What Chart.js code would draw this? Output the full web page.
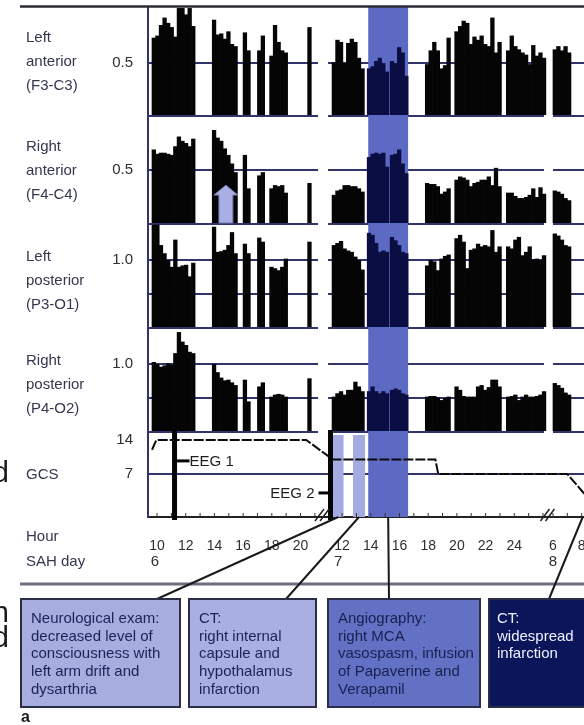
<!DOCTYPE html>
<html>
<head>
<meta charset="utf-8">
<script src="https://cdn.jsdelivr.net/npm/chart.js@4.4.1/dist/chart.umd.min.js"></script>
<style>
  html, body { margin: 0; padding: 0; background: #fff; overflow: hidden; }
  #wrap { width: 584px; height: 725px; }
</style>
</head>
<body>
<div id="wrap"><canvas id="eegChart" width="584" height="725"></canvas></div>
<script>
// Continuous recording segments: [SAH day, start hour], 15-min epochs each
const segStart = [[6, 9.65], [6, 13.85], [6, 16.0], [6, 17.0], [6, 17.85], [6, 20.5],
                  [7, 11.3], [7, 13.75], [7, 15.35], [7, 17.8], [7, 19.85], [7, 23.45], [8, 6.0]];
const segLength = [12, 7, 2, 2, 5, 1, 9, 6, 5, 7, 13, 11, 5];

// EEG band ratio per epoch, one list per channel (segments in the order above)
const leftAnterior = [
  0.74, 0.76, 0.86, 0.93, 0.88, 0.84, 0.75, 1.02, 1.02, 0.96, 1.02, 0.85,
  0.91, 0.77, 0.78, 0.73, 0.80, 0.68, 0.66,
  0.79, 0.62,
  0.62, 0.76,
  0.57, 0.86, 0.70, 0.62, 0.60,
  0.84,
  0.51, 0.72, 0.70, 0.50, 0.69, 0.73, 0.70, 0.55, 0.45,
  0.45, 0.47, 0.52, 0.55, 0.50, 0.42,
  0.52, 0.50, 0.65, 0.60, 0.38,
  0.49, 0.62, 0.70, 0.62, 0.45, 0.48, 0.74,
  0.80, 0.85, 0.90, 0.88, 0.68, 0.75, 0.72, 0.76, 0.68, 0.66, 0.93, 0.60, 0.70,
  0.62, 0.76, 0.66, 0.63, 0.60, 0.58, 0.49, 0.67, 0.57, 0.60, 0.55,
  0.63, 0.66, 0.62, 0.66, 0.60
];
const rightAnterior = [
  0.69, 0.65, 0.66, 0.66, 0.65, 0.64, 0.72, 0.81, 0.77, 0.75, 0.72, 0.79,
  0.87, 0.80, 0.77, 0.70, 0.64, 0.56, 0.48,
  0.64, 0.33,
  0.45, 0.48,
  0.33, 0.36, 0.35, 0.36, 0.29,
  0.38,
  0.27, 0.31, 0.32, 0.36, 0.36, 0.35, 0.35, 0.33, 0.30,
  0.62, 0.65, 0.66, 0.65, 0.66, 0.53,
  0.64, 0.65, 0.69, 0.56, 0.47,
  0.38, 0.37, 0.37, 0.35, 0.28, 0.30, 0.33,
  0.41, 0.44, 0.43, 0.41, 0.35, 0.38, 0.39, 0.41, 0.41, 0.44, 0.36, 0.52, 0.35,
  0.29, 0.29, 0.26, 0.24, 0.24, 0.25, 0.27, 0.33, 0.25, 0.34, 0.28,
  0.31, 0.30, 0.28, 0.24, 0.22
];
const leftPosterior = [
  1.52, 1.52, 1.22, 1.10, 1.00, 0.90, 1.30, 0.90, 0.92, 0.93, 0.76, 0.96,
  1.49, 1.12, 1.13, 1.15, 1.22, 1.41, 1.10,
  1.24, 1.10,
  1.33, 1.27,
  0.90, 0.88, 0.85, 0.90, 1.02,
  1.27,
  1.22, 1.25, 1.28, 1.17, 1.14, 1.12, 1.05, 1.00, 0.86,
  1.40, 1.37, 1.25, 1.12, 1.14, 1.12,
  1.34, 1.29, 1.22, 1.12, 1.10,
  0.92, 1.00, 0.98, 0.85, 1.02, 1.06, 1.08,
  1.32, 1.37, 1.27, 0.88, 1.15, 1.17, 1.24, 1.20, 1.22, 1.20, 1.44, 1.12, 1.20,
  1.20, 1.17, 1.30, 1.34, 1.07, 1.12, 1.20, 1.01, 1.02, 1.00, 1.07,
  1.39, 1.36, 1.30, 1.22, 1.20
];
const rightPosterior = [
  1.03, 1.00, 0.96, 0.98, 1.01, 0.99, 1.16, 1.47, 1.33, 1.28, 1.18, 1.16,
  1.00, 0.88, 0.80, 0.76, 0.77, 0.73, 0.69,
  0.77, 0.45,
  0.67, 0.73,
  0.52, 0.55, 0.56, 0.55, 0.52,
  0.79,
  0.52, 0.57, 0.60, 0.55, 0.62, 0.62, 0.74, 0.67, 0.60,
  0.60, 0.67, 0.60, 0.57, 0.60, 0.57,
  0.62, 0.64, 0.62, 0.57, 0.55,
  0.52, 0.53, 0.53, 0.51, 0.47, 0.50, 0.52,
  0.67, 0.62, 0.53, 0.52, 0.52, 0.52, 0.67, 0.69, 0.62, 0.66, 0.77, 0.77, 0.67,
  0.52, 0.53, 0.55, 0.47, 0.52, 0.55, 0.52, 0.52, 0.53, 0.55, 0.60,
  0.72, 0.69, 0.65, 0.58, 0.55
];

// Glasgow coma scale
const gcsTimes = [[6, 9.65], [6, 9.95], [6, 20.4], [7, 11.35], [7, 18.5], [7, 18.7], [8, 7.0], [8, 8.6]];
const gcsScores = [12, 14, 14, 10, 10, 7, 7, 1.5];

// Events
const eeg1At = [6, 11.22];
const eeg2At = [7, 11.19];
const arrowAt = [6, 14.8];
const ctWindows = [[[7, 11.36], [7, 12.1]], [[7, 12.76], [7, 13.6]]];
const angioWindow = [[7, 13.82], [7, 16.6]];
const eventAt = [[7, 11.73], [7, 13.18], [7, 15.21], [8, 8.07]];
const axisBreaks = [[[6, 21.22], [7, 11.02]], [[7, 26.07], [8, 6.0]]];
const hourTicks = [[6, 10, 21], [7, 12, 26], [8, 6, 8]];
const sahDays = [[6, 9.85], [7, 11.72], [8, 6.0]];

const panelLabels = [
  ['Left', 'anterior', '(F3-C3)'],
  ['Right', 'anterior', '(F4-C4)'],
  ['Left', 'posterior', '(P3-O1)'],
  ['Right', 'posterior', '(P4-O2)']
];
const boxTexts = [
  ['Neurological exam:', 'decreased level of', 'consciousness with', 'left arm drift and', 'dysarthria'],
  ['CT:', 'right internal', 'capsule and', 'hypothalamus', 'infarction'],
  ['Angiography:', 'right MCA', 'vasospasm, infusion', 'of Papaverine and', 'Verapamil'],
  ['CT:', 'widespread', 'infarction']
];

// compressed time axis: the night gaps are cut out
const dayShift = { 6: 0, 7: 10.9, 8: 31.6 };
const pos = (day, h) => h + dayShift[day];

const epochs = [];
segStart.forEach(([d, h], s) => {
  for (let i = 0; i < segLength[s]; i++) epochs.push(pos(d, h + i * 0.25 + 0.125));
});
const toPts = vals => vals.map((v, i) => ({ x: epochs[i], y: v }));

const FONT = '"Liberation Sans", Arial, Helvetica, sans-serif';
const gridColor = '#30346a';
const angioX = angioWindow.map(p => pos(...p));

const barColor = ctx => {
  const x = ctx.raw ? ctx.raw.x : 0;
  return x >= angioX[0] && x <= angioX[1] ? '#0b0e42' : '#050505';
};

function barSet(vals, axis) {
  return {
    type: 'bar', data: toPts(vals), yAxisID: axis, grouped: false,
    backgroundColor: barColor, borderWidth: 0,
    barPercentage: 1.2, categoryPercentage: 1
  };
}

function panelScale(stackWeight, order, min, max, tickVals, labels, noLine) {
  return {
    type: 'linear', position: 'left', stack: 'panels', stackWeight, weight: order,
    min, max,
    grid: {
      color: c => (c.tick && noLine.includes(c.tick.value)) ? 'rgba(0,0,0,0)' : gridColor,
      lineWidth: 2, drawTicks: false
    },
    border: { display: true, color: gridColor, width: 2 },
    ticks: {
      padding: 15, color: '#2f2f2f', font: { size: 15, family: FONT },
      callback: v => labels[v] || ''
    },
    afterBuildTicks: s => { s.ticks = tickVals.map(v => ({ value: v })); },
    afterFit: s => { s.width = 148; s.paddingTop = 0; s.paddingBottom = 0; }
  };
}

const overlay = {
  id: 'overlay',
  beforeDatasetsDraw(chart) {
    const { ctx, chartArea: a, scales: { x, p4, gcs } } = chart;
    const xp = p => x.getPixelForValue(pos(...p));
    ctx.save();
    // cut the panel grid lines at the time breaks
    ctx.fillStyle = '#fff';
    axisBreaks.forEach(([s, e]) => {
      ctx.fillRect(xp(s), a.top + 3, xp(e) - xp(s), p4.bottom + 2 - a.top - 3);
    });
    // angiography window through all panels
    ctx.fillStyle = '#5c6ac4';
    ctx.fillRect(xp(angioWindow[0]), a.top, xp(angioWindow[1]) - xp(angioWindow[0]), a.bottom - a.top);
    // CT windows in GCS panel
    ctx.fillStyle = '#a4abe0';
    ctWindows.forEach(([s, e]) => {
      ctx.fillRect(xp(s), gcs.top + 3, xp(e) - xp(s), a.bottom - gcs.top - 3);
    });
    ctx.restore();
  },
  afterDatasetsDraw(chart) {
    const { ctx, chartArea: a, scales: { x, p1, p2, p3, p4, gcs } } = chart;
    const xp = p => x.getPixelForValue(pos(...p));
    const font = (s, b) => (b ? 'bold ' : '') + s + 'px ' + FONT;
    ctx.save();

    // arrow in right anterior panel
    const ax = xp(arrowAt), base = p2.getPixelForValue(0) - 1, tip = p2.getPixelForValue(0.36);
    const hy = tip + 10;
    ctx.beginPath();
    ctx.moveTo(ax, tip); ctx.lineTo(ax + 12, hy); ctx.lineTo(ax + 7, hy); ctx.lineTo(ax + 7, base);
    ctx.lineTo(ax - 7, base); ctx.lineTo(ax - 7, hy); ctx.lineTo(ax - 12, hy); ctx.closePath();
    ctx.fillStyle = '#a9aee3'; ctx.fill();
    ctx.strokeStyle = '#6f75ad'; ctx.lineWidth = 1; ctx.stroke();

    // inward tick marks on time axis
    ctx.strokeStyle = '#333'; ctx.lineWidth = 1;
    x.ticks.forEach(t => {
      const px = x.getPixelForValue(t.value);
      ctx.beginPath(); ctx.moveTo(px, a.bottom); ctx.lineTo(px, a.bottom - 4); ctx.stroke();
    });

    // EEG recording markers
    ctx.strokeStyle = '#050505'; ctx.fillStyle = '#1e1e1e';
    ctx.font = font(15); ctx.textBaseline = 'middle';
    const e1 = xp(eeg1At), e2 = xp(eeg2At);
    ctx.lineWidth = 5;
    [e1, e2].forEach(ex => {
      ctx.beginPath(); ctx.moveTo(ex, p4.bottom - 2); ctx.lineTo(ex, a.bottom + 3); ctx.stroke();
    });
    ctx.lineWidth = 3;
    const y1 = gcs.getPixelForValue(9.7), y2 = gcs.getPixelForValue(3.1);
    ctx.beginPath(); ctx.moveTo(e1, y1); ctx.lineTo(e1 + 15, y1); ctx.stroke();
    ctx.textAlign = 'left'; ctx.fillText('EEG 1', e1 + 15, y1 + 1);
    ctx.beginPath(); ctx.moveTo(e2 - 12, y2); ctx.lineTo(e2, y2); ctx.stroke();
    ctx.textAlign = 'right'; ctx.fillText('EEG 2', e2 - 16, y2 + 1);

    // axis break marks
    ctx.strokeStyle = '#222'; ctx.lineWidth = 1.5;
    axisBreaks.forEach(([s, e]) => {
      const bx = (xp(s) + xp(e)) / 2;
      [-3, 2].forEach(o => {
        ctx.beginPath(); ctx.moveTo(bx + o - 5, a.bottom + 4); ctx.lineTo(bx + o + 4, a.bottom - 8); ctx.stroke();
      });
    });

    // frame lines
    ctx.strokeStyle = '#2b2b36'; ctx.lineWidth = 2.5;
    ctx.beginPath(); ctx.moveTo(20, a.top - 0.5); ctx.lineTo(584, a.top - 0.5); ctx.stroke();
    ctx.strokeStyle = '#6d6e7c'; ctx.lineWidth = 3;
    ctx.beginPath(); ctx.moveTo(20, 584); ctx.lineTo(584, 584); ctx.stroke();

    // channel labels
    ctx.fillStyle = '#35374f'; ctx.font = font(15); ctx.textAlign = 'left'; ctx.textBaseline = 'middle';
    const anchors = [[p1, 0.5, -25], [p2, 0.5, -23], [p3, 1.0, -3], [p4, 1.0, -3]];
    anchors.forEach(([sc, v, off], i) => {
      const y0 = sc.getPixelForValue(v) + off;
      panelLabels[i].forEach((t, k) => ctx.fillText(t, 26, y0 + k * 24));
    });
    ctx.fillText('GCS', 26, gcs.getPixelForValue(7) + 1);
    ctx.fillText('Hour', 26, 537);
    ctx.fillText('SAH day', 26, 562);
    ctx.fillStyle = '#2f2f2f'; ctx.textAlign = 'center';
    sahDays.forEach(p => ctx.fillText(String(p[0]), xp(p), 562));

    // event boxes and connectors
    const boxX = [21, 189, 328, 489], boxW = [159, 127, 152, 120];
    const anchorX = [157, 286, 389, 549];
    const fills = ['#a7addf', '#a9afe2', '#6371c5', '#0b165a'];
    const inks = ['#1c2255', '#1c2255', '#18204f', '#eef0ff'];
    ctx.strokeStyle = '#1a1a1a'; ctx.lineWidth = 2;
    eventAt.forEach((p, i) => {
      ctx.beginPath(); ctx.moveTo(xp(p), a.bottom); ctx.lineTo(anchorX[i], 599); ctx.stroke();
    });
    boxX.forEach((bx, i) => {
      ctx.fillStyle = fills[i]; ctx.fillRect(bx, 599, boxW[i], 108);
      ctx.strokeStyle = '#2a2e47'; ctx.lineWidth = 2; ctx.strokeRect(bx, 599, boxW[i], 108);
      ctx.fillStyle = inks[i]; ctx.font = font(15); ctx.textAlign = 'left';
      boxTexts[i].forEach((t, k) => ctx.fillText(t, bx + (i === 3 ? 8 : 10), 619 + k * 17.6));
    });

    // panel letter and clipped neighbour text
    ctx.fillStyle = '#1a1a1a'; ctx.font = font(16, true); ctx.textBaseline = 'alphabetic';
    ctx.fillText('a', 21, 722);
    ctx.font = font(29); ctx.textAlign = 'right';
    ctx.fillText('d', 9, 482);
    ctx.fillText('n', 9, 622);
    ctx.fillText('d', 9, 647);
    ctx.restore();
  }
};

const ctx = document.getElementById('eegChart').getContext('2d');
new Chart(ctx, {
  type: 'bar',
  data: {
    datasets: [
      barSet(leftAnterior, 'p1'),
      barSet(rightAnterior, 'p2'),
      barSet(leftPosterior, 'p3'),
      barSet(rightPosterior, 'p4'),
      {
        type: 'line', yAxisID: 'gcs',
        data: gcsTimes.map((p, i) => ({ x: pos(...p), y: gcsScores[i] })),
        borderColor: '#0a0a0a', borderWidth: 2, borderDash: [10, 2],
        pointRadius: 0, tension: 0, fill: false
      }
    ]
  },
  options: {
    responsive: false,
    animation: false,
    layout: { padding: { top: 7, left: 0, right: 0, bottom: 0 } },
    plugins: { legend: { display: false }, tooltip: { enabled: false } },
    scales: {
      x: {
        type: 'linear', position: 'bottom', min: 9.37, max: 39.76, offset: false,
        grid: { display: false, offset: false },
        border: { display: true, color: '#222', width: 2 },
        ticks: {
          autoSkip: false, maxRotation: 0, minRotation: 0, padding: 13,
          color: '#2f2f2f', font: { size: 14, family: FONT },
          callback: (v, i, t) => (t[i] && t[i].h <= 24 && t[i].h % 2 === 0) ? String(t[i].h) : ''
        },
        afterBuildTicks: s => {
          const out = [];
          hourTicks.forEach(([d, h0, h1]) => {
            for (let h = h0; h <= h1; h++) out.push({ value: pos(d, h), h });
          });
          s.ticks = out;
        },
        afterFit: s => { s.height = 208; s.paddingLeft = 0; s.paddingRight = 0; }
      },
      p1: panelScale(109, 5, 0, 1.03, [0, 0.5], { 0.5: '0.5' }, []),
      p2: panelScale(108, 4, 0, 1.0, [0, 0.5], { 0.5: '0.5' }, []),
      p3: panelScale(104, 3, 0, 1.53, [0, 0.5, 1.0], { 1: '1.0' }, []),
      p4: panelScale(104, 2, 0, 1.53, [0, 0.5, 1.0], { 1: '1.0' }, []),
      gcs: panelScale(85, 1, -1.85, 15.65, [7, 14], { 7: '7', 14: '14' }, [14])
    }
  },
  plugins: [overlay]
});
</script>
</body>
</html>
